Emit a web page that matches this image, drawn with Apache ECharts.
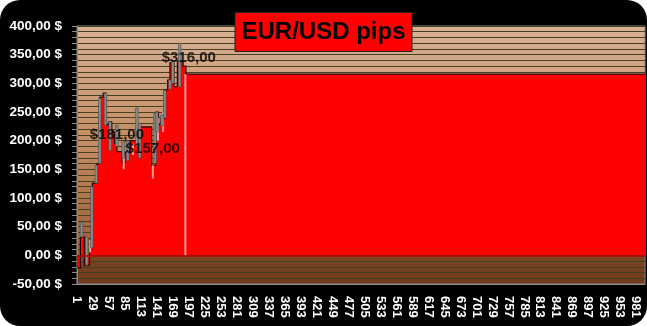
<!DOCTYPE html>
<html>
<head>
<meta charset="utf-8">
<script src="https://cdn.jsdelivr.net/npm/echarts@6/dist/echarts.min.js"></script>
<style>
html,body{margin:0;padding:0;background:#ffffff;}
#c{width:647px;height:326px;background:#000;border-radius:20px;overflow:hidden;}
</style>
</head>
<body>
<div id="c"></div>
<script>
// Equity curve (bar index from 0, value held until next index)
const equityIdx = [0,6,13,22,27,35,40,46,51,56,61,66,70,79,84,93,110,131,138,143,147,153,159,163,170,176,186,191,996];
const equityVal = [-22,32,-17,27,126,160,276,283,228,233,215,195,181,161,180,200,224,157,250,228,238,288,306,336,294,338,330,316,316];
// High-low (grey) segments
const hlIdx  = [8,17,26,34,40,50,58,70,81,89,105,110,137,140,149,154,163,168,180];
const hlLow  = [32,-17,13,126,160,227,183,190,170,165,190,170,160,215,225,240,290,300,294];
const hlHigh = [58,32,120,157,274,283,233,227,198,200,257,230,248,250,245,288,306,338,370];
// Light (pink) segments
const pkIdx  = [23,82,98,133,142,151,190];
const pkLow  = [5,150,175,134,200,215,0];
const pkHigh = [27,175,195,157,240,250,316];
// Labelled points
const lblIdx = [70,133,196];
const lblVal = [181,157,316];
// Axis settings
const xMax = 996, xStep = 28;
const yMin = -50, yMax = 400, yStep = 50;

const chart = echarts.init(document.getElementById('c'), null, {renderer:'canvas'});

function segItem(stroke, width){
  return function(params, api){
    const a = api.coord([api.value(0), api.value(1)]);
    const b = api.coord([api.value(0), api.value(2)]);
    return {type:'rect', shape:{x:a[0]-width/2, y:b[1], width:width, height:a[1]-b[1]},
            style:{fill:stroke, stroke:width>2?'#4a4a4a':null, lineWidth:0.6}};
  };
}

const option = {
  backgroundColor: 'transparent',
  animation: false,
  title: {
    text: 'EUR/USD pips', left: 'center', top: 12,
    backgroundColor: '#ff0000', borderColor: '#222', borderWidth: 1,
    padding: [8,7,8,7],
    textStyle: {color:'#000', fontSize: 24, fontWeight:'bold', fontFamily:'Liberation Sans', lineHeight: 24}
  },
  grid: {
    left: 77, right: 2, top: 26, bottom: 42, show: true,
    borderColor: '#8a8a8a', borderWidth: 1,
    backgroundColor: {type:'linear', x:0, y:0, x2:0, y2:1, colorStops:[
      {offset:0, color:'#d8b196'},
      {offset:0.45, color:'#c48d63'},
      {offset:0.885, color:'#9b5c33'},
      {offset:0.89, color:'#7c4524'},
      {offset:1, color:'#6e3b1c'}
    ]}
  },
  xAxis: {
    type: 'value', min: 0, max: xMax, interval: xStep,
    axisLine: {onZero: false, lineStyle:{color:'#8a8a8a'}},
    axisTick: {show: false},
    splitLine: {show: false},
    axisLabel: {
      rotate: -90, color:'#fff', fontSize: 13, fontWeight:'bold', fontFamily:'Liberation Sans',
      margin: 12, showMaxLabel: false,
      formatter: v => String(Math.round(v) + 1)
    }
  },
  yAxis: {
    type: 'value', min: yMin, max: yMax, interval: yStep,
    axisLine: {show: true, lineStyle:{color:'#8a8a8a'}},
    axisTick: {show: true, length: 5, lineStyle:{color:'#8a8a8a'}},
    minorTick: {show: true, splitNumber: 5, length: 5, lineStyle:{color:'#8a8a8a'}},
    splitLine: {show: true, lineStyle:{color:'#45401f', width:1}},
    minorSplitLine: {show: true, lineStyle:{color:'#45401f', width:1}},
    axisLabel: {
      color:'#fff', fontSize: 13.5, fontWeight:'bold', fontFamily:'Liberation Sans', margin: 15,
      formatter: v => v.toFixed(2).replace('.', ',') + ' $'
    }
  },
  series: [
    {
      type: 'line', step: 'end', symbol: 'none',
      data: equityIdx.map((x,i) => [x, equityVal[i]]),
      lineStyle: {color:'#2a0000', width: 1.2},
      areaStyle: {color:'#ff0000', opacity: 1},
      z: 2,
      markLine: {
        silent: true, symbol: 'none', label:{show:false},
        lineStyle: {color:'#b00000', width: 1.5, type:'solid'},
        data: [{yAxis: 0}]
      }
    },
    {
      type: 'custom', renderItem: segItem('#ff9a9a', 2), z: 3,
      data: pkIdx.map((x,i) => [x, pkLow[i], pkHigh[i]])
    },
    {
      type: 'custom', renderItem: segItem('#8c8c8c', 2.6), z: 4,
      data: hlIdx.map((x,i) => [x, hlLow[i], hlHigh[i]])
    },
    {
      type: 'scatter', symbolSize: 0.1, z: 6,
      data: lblIdx.map((x,i) => [x, lblVal[i]]),
      label: {
        show: true, position: 'top', distance: 9,
        color:'#000', fontSize: 15, fontWeight:'bold', fontFamily:'Liberation Sans',
        formatter: p => '$' + p.value[1].toFixed(2).replace('.', ',')
      }
    }
  ]
};
chart.setOption(option);
</script>
</body>
</html>
